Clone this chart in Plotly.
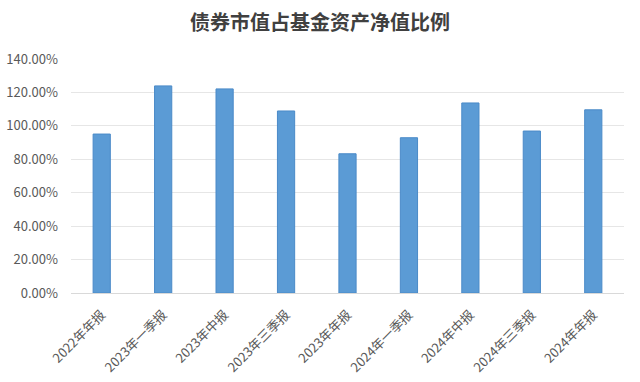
import plotly.graph_objects as go

categories = ["2022年年报", "2023年一季报", "2023年中报", "2023年三季报", "2023年年报",
              "2024年一季报", "2024年中报", "2024年三季报", "2024年年报"]
values = [95.1, 123.9, 122.1, 108.9, 83.3, 92.9, 113.7, 96.9, 109.6]
y_ticks = [0, 20, 40, 60, 80, 100, 120, 140]
y_tick_labels = ["0.00%", "20.00%", "40.00%", "60.00%", "80.00%", "100.00%", "120.00%", "140.00%"]

font = "Noto Sans CJK SC, Noto Sans, sans-serif"

fig = go.Figure(go.Bar(
    x=categories, y=values,
    marker=dict(color="#5B9BD5", line=dict(color="#4A8AC8", width=1)),
))
fig.update_layout(
    width=640, height=382,
    margin=dict(l=71, r=16, t=59, b=89, autoexpand=False),
    paper_bgcolor="white", plot_bgcolor="white",
    bargap=0.72,
    showlegend=False,
    title=dict(text="<b>债券市值占基金资产净值比例</b>", x=0.5, xanchor="center", y=0.94, yanchor="middle",
               font=dict(family=font, size=20, color="#404040")),
    font=dict(family=font, size=13, color="#595959"),
)
fig.update_xaxes(tickangle=-45, showline=True, linecolor="#D9D9D9", ticks="", automargin=False,
                 ticklabelstandoff=8,
                 tickfont=dict(size=13, color="#595959"))
fig.update_yaxes(range=[0, 140], tickvals=y_ticks, ticktext=y_tick_labels, automargin=False,
                 showgrid=True, gridcolor="#E6E6E6", zeroline=False, ticks="",
                 ticklabelstandoff=12,
                 tickfont=dict(size=13, color="#595959"))
fig.write_html("out.html", config={"displayModeBar": False},
               post_script="document.body.style.margin='0';document.body.style.overflow='hidden';")
